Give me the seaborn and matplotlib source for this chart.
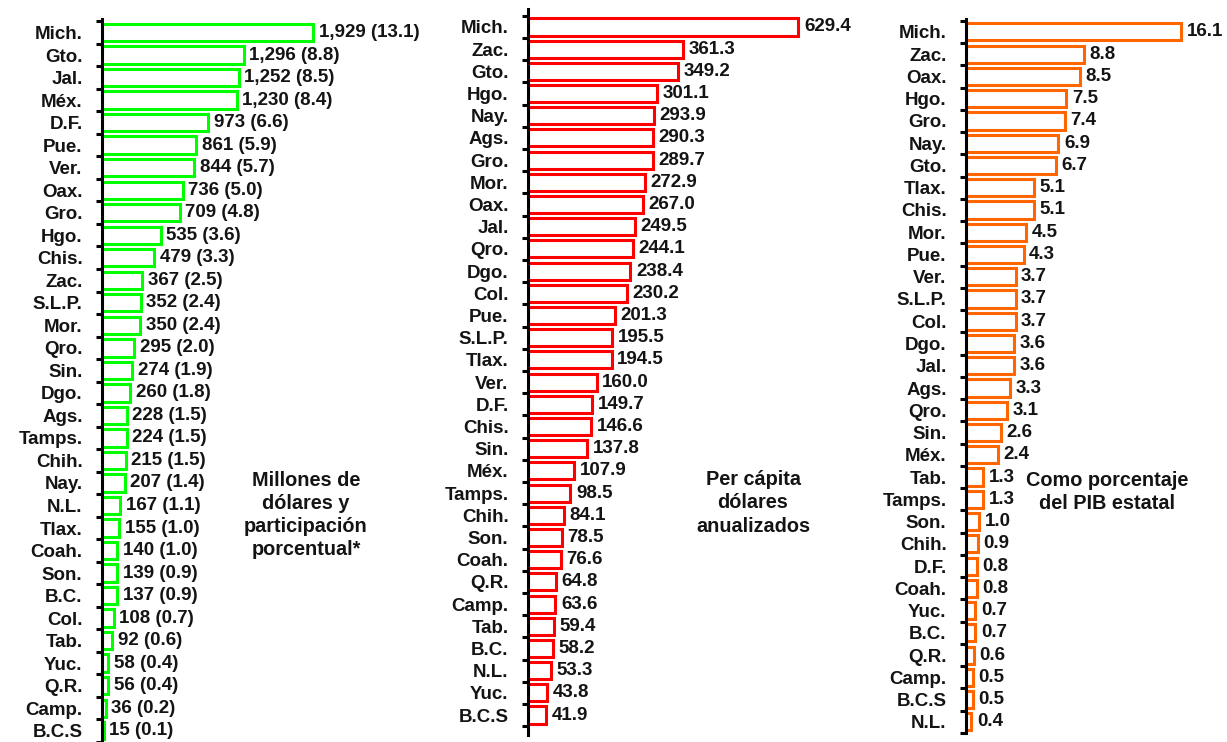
import numpy as np
import matplotlib
matplotlib.use("Agg")
import matplotlib.pyplot as plt
import seaborn as sns

# ---------------- data ----------------
cats1 = ["Mich.", "Gto.", "Jal.", "Méx.", "D.F.", "Pue.", "Ver.", "Oax.", "Gro.", "Hgo.",
         "Chis.", "Zac.", "S.L.P.", "Mor.", "Qro.", "Sin.", "Dgo.", "Ags.", "Tamps.", "Chih.",
         "Nay.", "N.L.", "Tlax.", "Coah.", "Son.", "B.C.", "Col.", "Tab.", "Yuc.", "Q.R.",
         "Camp.", "B.C.S"]
vals1 = [1929, 1296, 1252, 1230, 973, 861, 844, 736, 709, 535,
         479, 367, 352, 350, 295, 274, 260, 228, 224, 215,
         207, 167, 155, 140, 139, 137, 108, 92, 58, 56,
         36, 15]
pct1 = [13.1, 8.8, 8.5, 8.4, 6.6, 5.9, 5.7, 5.0, 4.8, 3.6,
        3.3, 2.5, 2.4, 2.4, 2.0, 1.9, 1.8, 1.5, 1.5, 1.5,
        1.4, 1.1, 1.0, 1.0, 0.9, 0.9, 0.7, 0.6, 0.4, 0.4,
        0.2, 0.1]

cats2 = ["Mich.", "Zac.", "Gto.", "Hgo.", "Nay.", "Ags.", "Gro.", "Mor.", "Oax.", "Jal.",
         "Qro.", "Dgo.", "Col.", "Pue.", "S.L.P.", "Tlax.", "Ver.", "D.F.", "Chis.", "Sin.",
         "Méx.", "Tamps.", "Chih.", "Son.", "Coah.", "Q.R.", "Camp.", "Tab.", "B.C.", "N.L.",
         "Yuc.", "B.C.S"]
vals2 = [629.4, 361.3, 349.2, 301.1, 293.9, 290.3, 289.7, 272.9, 267.0, 249.5,
         244.1, 238.4, 230.2, 201.3, 195.5, 194.5, 160.0, 149.7, 146.6, 137.8,
         107.9, 98.5, 84.1, 78.5, 76.6, 64.8, 63.6, 59.4, 58.2, 53.3,
         43.8, 41.9]

cats3 = ["Mich.", "Zac.", "Oax.", "Hgo.", "Gro.", "Nay.", "Gto.", "Tlax.", "Chis.", "Mor.",
         "Pue.", "Ver.", "S.L.P.", "Col.", "Dgo.", "Jal.", "Ags.", "Qro.", "Sin.", "Méx.",
         "Tab.", "Tamps.", "Son.", "Chih.", "D.F.", "Coah.", "Yuc.", "B.C.", "Q.R.", "Camp.",
         "B.C.S", "N.L."]
vals3 = [16.1, 8.8, 8.5, 7.5, 7.4, 6.9, 6.7, 5.1, 5.1, 4.5,
         4.3, 3.7, 3.7, 3.7, 3.6, 3.6, 3.3, 3.1, 2.6, 2.4,
         1.3, 1.3, 1.0, 0.9, 0.8, 0.8, 0.7, 0.7, 0.6, 0.5,
         0.5, 0.4]

labels1 = [f"{v:,} ({p:.1f})" for v, p in zip(vals1, pct1)]
labels2 = [f"{v:.1f}" for v in vals2]
labels3 = [f"{v:.1f}" for v in vals3]

notes = ["Millones de\ndólares y\nparticipación\nporcentual*",
         "Per cápita\ndólares\nanualizados",
         "Como porcentaje\ndel PIB estatal"]

# ---------------- style ----------------
sns.set_style("white")
plt.rcParams["font.family"] = ["Liberation Sans", "DejaVu Sans"]
plt.rcParams["font.weight"] = "bold"

W, H = 1227, 742
fig = plt.figure(figsize=(W / 100, H / 100), dpi=100)
TXT = "#141414"
FS = 13.5

def px_axes(left, right, top, bottom):
    return fig.add_axes([left / W, (H - bottom) / H, (right - left) / W, (bottom - top) / H])

panels = [
    dict(cats=cats1, vals=vals1, labels=labels1, color="#00FF00",
         box=(102, 432, 19, 742), ylim=(31.4, -0.6), xmax=3017,
         note=notes[0], note_xy=(306, 515)),
    dict(cats=cats2, vals=vals2, labels=labels2, color="#FF0000",
         box=(528, 860, 9, 735), ylim=(31.9, -0.81), xmax=772.5,
         note=notes[1], note_xy=(753, 503)),
    dict(cats=cats3, vals=vals3, labels=labels3, color="#FF6600",
         box=(966, 1227, 19, 733), ylim=(31.5, -0.58), xmax=19.5,
         note=notes[2], note_xy=(1107, 492)),
]

for p in panels:
    ax = px_axes(*p["box"])
    sns.barplot(x=p["vals"], y=p["cats"], orient="h", color="white", saturation=1,
                edgecolor=p["color"], linewidth=2.2, width=0.77, ax=ax)
    ax.bar_label(ax.containers[0], labels=p["labels"], padding=4,
                 fontsize=FS, fontweight="bold", color=TXT)
    ax.set_xlim(0, p["xmax"])
    ax.set_ylim(*p["ylim"])
    ax.set_xlabel("")
    ax.set_ylabel("")
    ax.set_xticks([])
    for s in ["top", "right", "bottom"]:
        ax.spines[s].set_visible(False)
    ax.spines["left"].set_color("black")
    ax.spines["left"].set_linewidth(2.2)
    n = len(p["cats"])
    ax.set_yticks(np.arange(n))
    ax.set_yticklabels(p["cats"], fontsize=FS, fontweight="bold", color=TXT)
    ax.set_yticks(np.arange(-0.5, n + 0.5, 1), minor=True)
    ax.tick_params(axis="y", which="major", left=True, length=0, pad=14)
    ax.tick_params(axis="y", which="minor", left=True, length=4, width=2.2,
                   color="black", direction="out")
    ax.patch.set_alpha(0)
    nx, ny = p["note_xy"]
    fig.text(nx / W, (H - ny) / H, p["note"], ha="center", va="center",
             fontsize=14.3, fontweight="bold", color=TXT, linespacing=1.28,
             multialignment="center")

fig.savefig("out.png", dpi=100)
